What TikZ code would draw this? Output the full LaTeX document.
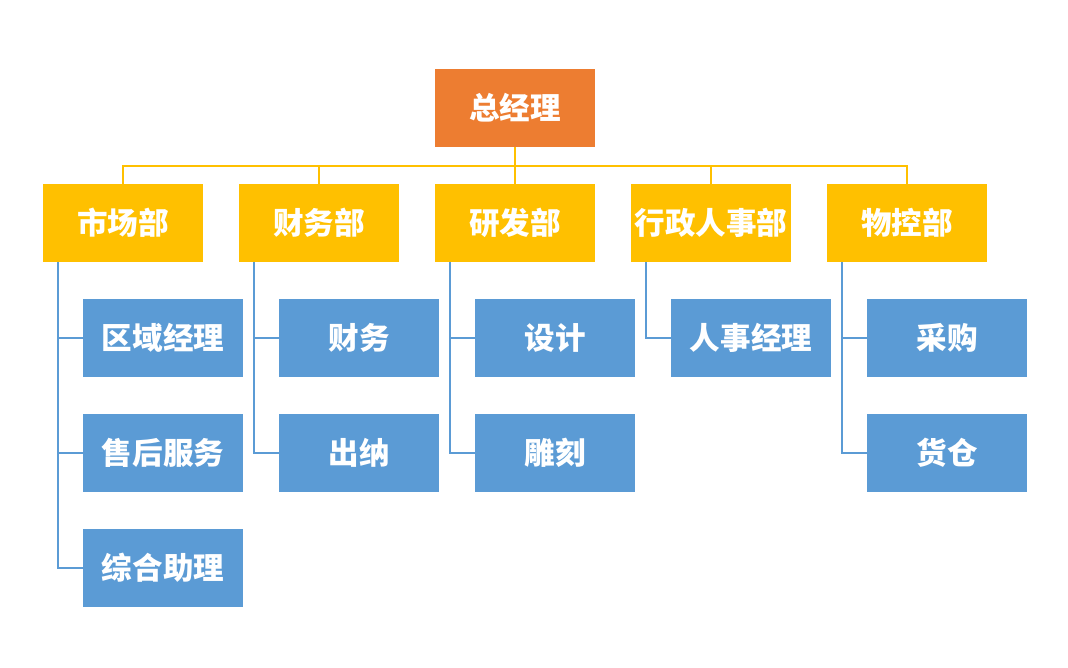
\documentclass[tikz,border=0pt]{standalone}
\usepackage{fontspec}
\usepackage{tikz}
\usetikzlibrary{positioning, calc}
\setmainfont{Noto Sans CJK SC}

\definecolor{gmorange}{HTML}{ED7D31}
\definecolor{deptyellow}{HTML}{FFC000}
\definecolor{postblue}{HTML}{5B9BD5}

\tikzset{
  box/.style={minimum width=4.23cm, minimum height=2.06cm, inner sep=0pt,
    text=white, font=\fontsize{23}{25}\selectfont\bfseries},
  boss/.style={box, fill=gmorange},
  dept/.style={box, fill=deptyellow},
  post/.style={box, fill=postblue},
  yline/.style={draw=deptyellow, line width=1.5pt},
  bline/.style={draw=postblue, line width=1.5pt}
}

\begin{document}
\begin{tikzpicture}[x=0.02646cm, y=-0.02646cm]
\useasboundingbox (0,0) rectangle (1068,667);

\node[boss] (gm) at (515,108) {总经理};

\node[dept] (mkt) at (123,223) {市场部};
\node[dept] (fin) at (319,223) {财务部};
\node[dept] (rnd) at (515,223) {研发部};
\node[dept] (adm) at (711,223) {行政人事部};
\node[dept] (mat) at (907,223) {物控部};

\node[post] (area) at (163,338) {区域经理};
\node[post] (after) at (163,453) {售后服务};
\node[post] (assist) at (163,568) {综合助理};
\node[post] (acct) at (359,338) {财务};
\node[post] (cash) at (359,453) {出纳};
\node[post] (design) at (555,338) {设计};
\node[post] (carve) at (555,453) {雕刻};
\node[post] (hr) at (751,338) {人事经理};
\node[post] (buy) at (947,338) {采购};
\node[post] (store) at (947,453) {货仓};

% bus under the general manager
\coordinate (bus) at (515,166);
\draw[yline] (gm.south) -- (bus);
\draw[yline] (mkt.north) |- (mat.north |- bus) -- (mat.north);
\foreach \d in {fin, rnd, adm}
  \draw[yline] (\d.north) -- (\d.north |- bus);

% posts hang from the left side of each department
\foreach \d/\p in {mkt/area, mkt/after, mkt/assist, fin/acct, fin/cash,
                   rnd/design, rnd/carve, adm/hr, mat/buy, mat/store}
  \draw[bline] ($(\d.south west)+(15,0)$) |- (\p.west);
\end{tikzpicture}
\end{document}
